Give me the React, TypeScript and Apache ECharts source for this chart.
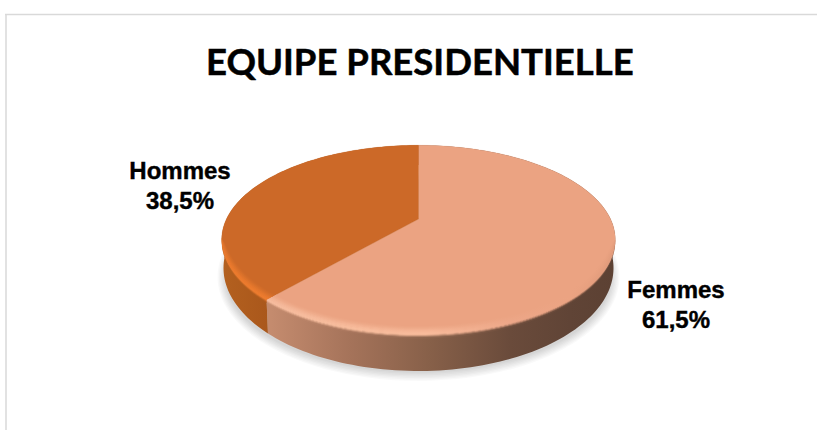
import React, { useEffect, useRef } from "react";
import * as echarts from "echarts";

const categories = ["Femmes", "Hommes"];
const shares = [61.5, 38.5];
const titleText = "EQUIPE PRESIDENTIELLE";

const topColors = ["#EBA382", "#CC6928"];
const wallStops = [
  [[222, "#c48b6e"], [271, "#c48b6e"], [350, "#a5735a"], [430, "#876049"], [510, "#6a4b3b"], [570, "#604436"], [615, "#5c4133"]],
  [[222, "#b3601f"], [272, "#a9571b"]],
];
const bevelStops = [
  [[222, "#f6bc9e"], [271, "#f6bc9e"], [350, "#f8bd9d"], [430, "#f8bb9b"], [510, "#eda788"], [570, "#eba382"], [615, "#e09a7a"]],
  [[222, "#ec7a2c"], [272, "#ee7c2e"]],
];

const CX = 418.5, VY = 219, YA = 41.9, K = -0.219, XB = 192;
const BOTTOM_RX = 195, BOTTOM_CY = 268, BOTTOM_RY = 103;
const BEVEL_UP = 9, BEVEL_DOWN = 4, FRONT_RADIUS = 115;
const LABEL_POS = [[676, 304], [180, 185]];

const project = (deg: number, z: number) => {
  const a = (deg * Math.PI) / 180;
  const u = Math.sin(a), v = -Math.cos(a);
  const w = 1 + K * v;
  return [CX + (XB * u) / w, (VY + YA * v) / w + z];
};
const arc = (from: number, to: number, z: number) => {
  const pts: number[][] = [];
  const n = Math.max(2, Math.ceil(Math.abs(to - from) / 1.5));
  for (let i = 0; i <= n; i++) pts.push(project(from + ((to - from) * i) / n, z));
  return pts;
};
// Rim offset: inward along the radius above the edge, downward below it, tapering to nothing at the sides.
const rimPoint = (deg: number, z: number) => {
  const [px, py] = project(deg, 0);
  const v = -Math.cos((deg * Math.PI) / 180);
  const taper = Math.sqrt(Math.max(0, (v + K) / (1 + K)));
  if (z < 0) {
    const f = 1 + (z / FRONT_RADIUS) * taper;
    return [CX + (px - CX) * f, VY + (py - VY) * f];
  }
  return [px, py + z * taper];
};
const rimArc = (from: number, to: number, z: number) => {
  const pts: number[][] = [];
  const n = Math.max(2, Math.ceil(Math.abs(to - from) / 1.5));
  for (let i = 0; i <= n; i++) pts.push(rimPoint(from + ((to - from) * i) / n, z));
  return pts;
};
const bottomPoint = (deg: number) => {
  const a = (deg * Math.PI) / 180;
  const v = -Math.cos(a);
  const sx = Math.max(-1, Math.min(1, ((project(deg, 0)[0] - CX) / XB) * Math.sqrt(1 - K * K)));
  const sign = v >= -K ? 1 : -1;
  return [CX + BOTTOM_RX * sx, BOTTOM_CY + sign * BOTTOM_RY * Math.sqrt(1 - sx * sx)];
};
const bottomArc = (from: number, to: number) => {
  const pts: number[][] = [];
  const n = Math.max(2, Math.ceil(Math.abs(to - from) / 1.5));
  for (let i = 0; i <= n; i++) pts.push(bottomPoint(from + ((to - from) * i) / n));
  return pts;
};
const hex = (c: string) => [1, 3, 5].map((i) => parseInt(c.slice(i, i + 2), 16));
const toHex = (rgb: number[]) => "#" + rgb.map((v) => Math.round(v).toString(16).padStart(2, "0")).join("");
const mix = (a: string, b: string, t: number) => {
  const A = hex(a), B = hex(b);
  return toHex(A.map((v, i) => v + (B[i] - v) * t));
};
const colorAt = (stops: any[], x: number) => {
  if (x <= stops[0][0]) return stops[0][1];
  for (let i = 1; i < stops.length; i++) {
    if (x <= stops[i][0]) {
      const t = (x - stops[i - 1][0]) / (stops[i][0] - stops[i - 1][0]);
      return mix(stops[i - 1][1], stops[i][1], t);
    }
  }
  return stops[stops.length - 1][1];
};
const ranges = () => {
  const total = shares.reduce((s, v) => s + v, 0);
  let start = 0;
  return shares.map((v) => {
    const r = [start, start + (v / total) * 360];
    start = r[1];
    return r;
  });
};
const smooth = (s: number) => s * s * (3 - 2 * s);
const xsFor = (idx: number) => (idx === 0 ? [222, 271, 350, 430, 510, 570, 615] : [222, 272]);
const gradient = (idx: number, colour: (x: number) => string) => {
  const xs = xsFor(idx);
  const x0 = xs[0], x1 = xs[xs.length - 1];
  return new echarts.graphic.LinearGradient(
    x0, 0, x1, 0,
    xs.map((x) => ({ offset: (x - x0) / (x1 - x0), color: colour(x) })),
    true
  );
};

const renderShadow = () => ({
  type: "group",
  children: [0, 1, 2, 3, 4, 5, 6].map((i) => ({
    type: "ellipse",
    shape: { cx: CX, cy: 277, rx: 201 - i * 1.3, ry: 104 - i * 1.4 },
    style: { fill: "rgba(0,0,0,0.022)" },
  })),
});

const renderWall = (params: any) => {
  const idx = params.dataIndex;
  const [a, b] = ranges()[idx];
  return {
    type: "polygon",
    shape: { points: [...arc(a, b, 0), ...bottomArc(b, a)] },
    style: { fill: gradient(idx, (x) => colorAt(wallStops[idx], x)) },
  };
};

const renderTop = (params: any) => {
  const idx = params.dataIndex;
  const [a, b] = ranges()[idx];
  return {
    type: "polygon",
    shape: { points: [[CX, VY], ...arc(a, b, 0)] },
    style: { fill: topColors[idx], stroke: topColors[idx], lineWidth: 0.3 },
  };
};

const renderBevel = (params: any) => {
  const idx = params.dataIndex;
  const [a0, b0] = ranges()[idx];
  const front = (Math.acos(K) * 180) / Math.PI;
  const a = Math.max(a0, 180 - front), b = Math.min(b0, 180 + front);
  const children: any[] = [];
  const step = 1;
  for (let z = -BEVEL_UP; z < BEVEL_DOWN; z += step) {
    const mid = z + step / 2;
    const colour = (x: number) => {
      if (mid < 0) {
        return mix(topColors[idx], colorAt(bevelStops[idx], x), smooth((mid + BEVEL_UP) / BEVEL_UP));
      }
      return mix(colorAt(bevelStops[idx], x), colorAt(wallStops[idx], x), smooth(mid / BEVEL_DOWN));
    };
    children.push({
      type: "polygon",
      shape: { points: [...rimArc(a, b, z), ...rimArc(b, a, z + step + 0.4)] },
      style: { fill: gradient(idx, colour) },
    });
  }
  return { type: "group", children };
};

const renderLabel = (params: any, api: any) => {
  const idx = params.dataIndex;
  const [lx, ly] = LABEL_POS[idx];
  const pct = api.value(0).toFixed(1).replace(".", ",") + "%";
  return {
    type: "text",
    x: lx,
    y: ly,
    style: {
      text: `${categories[idx]}\n${pct}`,
      fill: "#000",
      stroke: "#000",
      lineWidth: 0.4,
      font: "700 24px 'Liberation Sans', Arial, sans-serif",
      lineHeight: 30,
      align: "center",
      verticalAlign: "middle",
    },
  };
};

export default function App() {
  const ref = useRef<HTMLDivElement>(null);
  useEffect(() => {
    const chart = echarts.init(ref.current!, null, { renderer: "svg" });
    const data = shares.map((v) => [v]);
    const layer = (renderItem: any, d: any = data) => ({
      type: "custom",
      coordinateSystem: "none",
      renderItem,
      data: d,
      silent: true,
    });
    chart.setOption({
      animation: false,
      backgroundColor: "#fff",
      title: {
        text: titleText,
        left: 201,
        top: 37,
        textStyle: {
          fontFamily: "Lato",
          fontWeight: 700,
          fontSize: 36.5,
          color: "#000",
          textBorderColor: "#000",
          textBorderWidth: 0.5,
        },
      },
      graphic: [
        { type: "line", shape: { x1: 5, y1: 14.5, x2: 817, y2: 14.5 }, style: { stroke: "#d9d9d9", lineWidth: 1.5 } },
        { type: "line", shape: { x1: 6, y1: 14, x2: 6, y2: 430 }, style: { stroke: "#d9d9d9", lineWidth: 1.5 } },
      ],
      series: [
        layer(renderShadow, [[0]]),
        layer(renderWall),
        layer(renderTop),
        layer(renderBevel),
        layer(renderLabel),
      ],
    });
    return () => chart.dispose();
  }, []);
  return <div ref={ref} style={{ position: "absolute", left: 0, top: 0, width: 817, height: 430 }} />;
}
